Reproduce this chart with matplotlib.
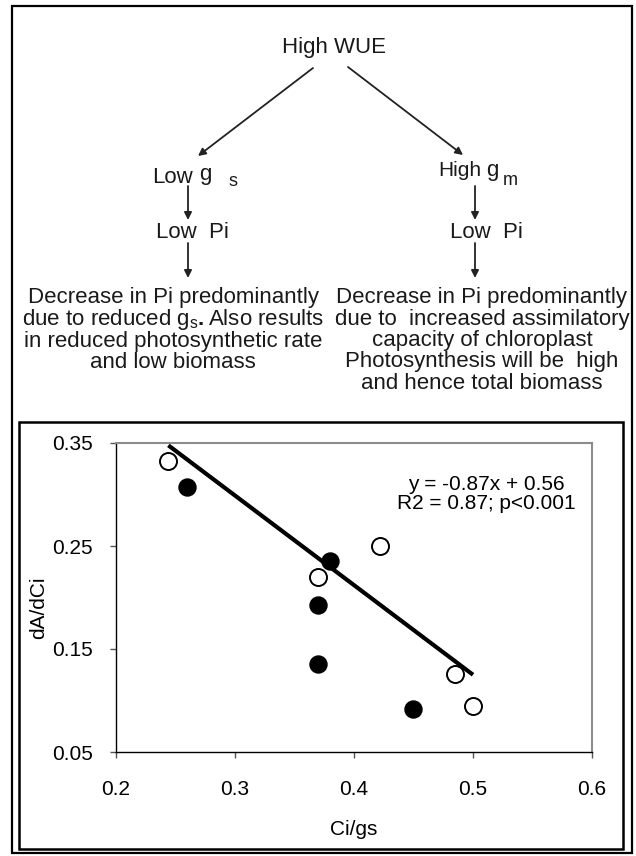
import numpy as np
import matplotlib.pyplot as plt
from matplotlib.patches import Rectangle

plt.rcParams['font.family'] = ['Liberation Sans', 'DejaVu Sans']
plt.rcParams['mathtext.fontset'] = 'custom'
plt.rcParams['mathtext.rm'] = 'Liberation Sans'
plt.rcParams['mathtext.bf'] = 'Liberation Sans:bold'

#scatter values
open_x = [0.244, 0.37, 0.422, 0.485, 0.50]
open_y = [0.333, 0.220, 0.250, 0.126, 0.095]
filled_x = [0.26, 0.38, 0.37, 0.37, 0.45]
filled_y = [0.307, 0.235, 0.193, 0.135, 0.092]

#trendline as printed on the chart
slope = -0.87
intercept = 0.56
fit_x = [0.244, 0.50]

x_ticks = [0.2, 0.3, 0.4, 0.5, 0.6]
y_ticks = [0.05, 0.15, 0.25, 0.35]

eq_text = 'y = -0.87x + 0.56\nR2 = 0.87; p<0.001'

#flowchart text
left_lines = ['Decrease in Pi predominantly',
              r'due to reduced g$_\mathregular{s}$$\mathbf{.}$Also results',
              'in reduced photosynthetic rate',
              'and low biomass']
right_lines = ['Decrease in Pi predominantly',
               'due to  increased assimilatory',
               'capacity of chloroplast',
               'Photosynthesis will be  high',
               'and hence total biomass']

W, H = 636, 856
fig = plt.figure(figsize=(W / 100, H / 100), dpi=100)

#background axes in pixel units for the boxes, arrows and flowchart
bg = fig.add_axes([0, 0, 1, 1])
bg.set_xlim(0, W)
bg.set_ylim(H, 0)
bg.axis('off')

bg.add_patch(Rectangle((12, 6), 620, 847, fill=False, lw=1.6, ec='black'))
bg.add_patch(Rectangle((19, 422), 604, 427, fill=False, lw=1.8, ec='black'))

tc = '#1a1a1a'
fs = 16
bg.text(334, 47, 'High WUE', fontsize=fs, color=tc, ha='center', va='center')

arrow = dict(arrowstyle='-|>', color='#222222', lw=1.3, mutation_scale=11,
             shrinkA=0, shrinkB=0)
bg.annotate('', xy=(198, 156), xytext=(313, 68), arrowprops=arrow)
bg.annotate('', xy=(463, 155), xytext=(348, 67), arrowprops=arrow)
for x in [188, 475]:
    bg.annotate('', xy=(x, 220), xytext=(x, 186), arrowprops=arrow)
    bg.annotate('', xy=(x, 278), xytext=(x, 243), arrowprops=arrow)

#Low g s
bg.text(152, 177, 'Low', fontsize=fs, color=tc, ha='left', va='center')
bg.text(205, 174, 'g', fontsize=fs, color=tc, ha='center', va='center')
bg.text(233, 181, 's', fontsize=13, color=tc, ha='center', va='center')
#High g m
bg.text(438, 170, 'High', fontsize=15, color=tc, ha='left', va='center')
bg.text(492, 170, 'g', fontsize=fs, color=tc, ha='center', va='center')
bg.text(510, 180, 'm', fontsize=13, color=tc, ha='center', va='center')

bg.text(192, 232, 'Low  Pi', fontsize=fs, color=tc, ha='center', va='center')
bg.text(486, 232, 'Low  Pi', fontsize=fs, color=tc, ha='center', va='center')

for i, line in enumerate(left_lines):
    bg.text(173, 298 + i * 21.6, line, fontsize=fs, color=tc, ha='center', va='center')
for i, line in enumerate(right_lines):
    bg.text(482, 298 + i * 21.3, line, fontsize=fs, color=tc, ha='center', va='center')

#scatter chart
ax = fig.add_axes([116 / W, 1 - 752 / H, (592 - 116) / W, (752 - 443) / H])
ax.set_xlim(0.2, 0.6)
ax.set_ylim(0.05, 0.35)
ax.set_xticks(x_ticks)
ax.set_yticks(y_ticks)
ax.set_xticklabels([str(v) for v in x_ticks])
ax.set_yticklabels([str(v) for v in y_ticks])

xs = np.array(fit_x)
ax.plot(xs, slope * xs + intercept, color='black', lw=3, solid_capstyle='butt', zorder=2)
ax.scatter(filled_x, filled_y, s=150, color='black', zorder=3)
ax.scatter(open_x, open_y, s=150, facecolor='white', edgecolor='black', lw=1.4, zorder=3)

for side in ['top', 'right']:
    ax.spines[side].set_color('#8c8c8c')
    ax.spines[side].set_linewidth(1.5)
for side in ['left', 'bottom']:
    ax.spines[side].set_color('black')
    ax.spines[side].set_linewidth(1.0)
ax.tick_params(direction='out', length=4.5, width=1, color='#555555', labelsize=15)
ax.tick_params(axis='x', pad=16)
ax.tick_params(axis='y', pad=12)

ax.set_xlabel('Ci/gs', fontsize=15)
ax.set_ylabel('dA/dCi', fontsize=15)
ax.xaxis.set_label_coords(0.5, -0.22)
ax.yaxis.set_label_coords(-0.143, 0.466)

ax.annotate(eq_text, xy=(486, H - 494), xycoords='figure pixels', fontsize=15,
            ha='center', va='center', linespacing=1.0)

plt.savefig('out.png', dpi=100)
